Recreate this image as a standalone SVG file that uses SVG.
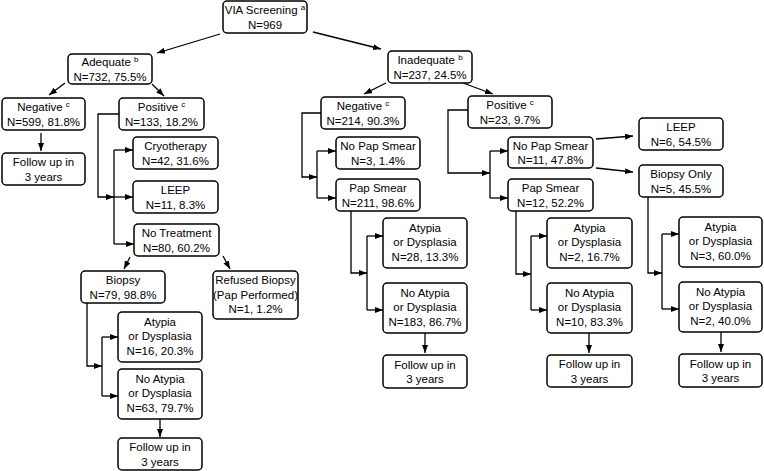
<svg xmlns="http://www.w3.org/2000/svg" width="764" height="471" viewBox="0 0 764 471">
<defs>
<marker id="ah" markerUnits="userSpaceOnUse" markerWidth="9" markerHeight="7" refX="8" refY="3" orient="auto">
<path d="M0,0 L8,3 L0,6 z" fill="#000"/>
</marker>
<style>
.b rect{fill:#fff;stroke:#000;stroke-width:1.5}
.b text{font-family:"Liberation Sans",Arial,sans-serif;font-size:11.5px;fill:#000;text-anchor:middle}
.s{font-size:8px}
#c path{fill:none;stroke:#000;stroke-width:1.3}
#c .a{marker-end:url(#ah)}
</style>
</defs>
<rect width="764" height="471" fill="#fff"/>
<g id="c">
<path class="a" d="M220,34 L157,53"/>
<path class="a" d="M313,32 L381,49"/>
<path class="a" d="M65,83 L49,95"/>
<path class="a" d="M152,84 L164,96"/>
<path class="a" d="M41,133 V151"/>
<path class="a" d="M119,114 H98 V197 H114"/>
<path d="M114,150 V244"/>
<path class="a" d="M114,150 H133"/>
<path class="a" d="M114,197 H133"/>
<path class="a" d="M114,244 H134"/>
<path class="a" d="M130,257 L124,269"/>
<path class="a" d="M223,256 L230,269"/>
<path class="a" d="M87,303 V366 H102"/>
<path d="M102,337 V396"/>
<path class="a" d="M102,337 H118"/>
<path class="a" d="M102,396 H118"/>
<path class="a" d="M160,419 V437"/>
<path class="a" d="M386,83 L364,94"/>
<path class="a" d="M463,83 L493,94"/>
<path class="a" d="M321,113 H302 V177 H317"/>
<path d="M317,151 V198"/>
<path class="a" d="M317,151 H336"/>
<path class="a" d="M317,198 H336"/>
<path class="a" d="M351,211 V273 H367"/>
<path d="M367,236 V310"/>
<path class="a" d="M367,236 H383"/>
<path class="a" d="M367,310 H383"/>
<path class="a" d="M425,333 V353"/>
<path class="a" d="M468,110 H448 V173 H490"/>
<path d="M490,151 V198"/>
<path class="a" d="M490,151 H508"/>
<path class="a" d="M490,198 H508"/>
<path class="a" d="M596,139 L633,136"/>
<path class="a" d="M596,168 L633,172"/>
<path class="a" d="M516,211 V274 H531"/>
<path d="M531,236 V310"/>
<path class="a" d="M531,236 H547"/>
<path class="a" d="M531,310 H547"/>
<path class="a" d="M589,333 V353"/>
<path class="a" d="M648,197 V273 H662"/>
<path d="M662,234 V309"/>
<path class="a" d="M662,234 H679"/>
<path class="a" d="M662,309 H679"/>
<path class="a" d="M721,332 V352"/>
</g>
<g id="via" class="b"><rect x="223" y="1" width="84" height="32" rx="4"/><text x="265" y="14">VIA Screening <tspan class="s" dy="-4">a</tspan></text><text x="265" y="28.5">N=969</text></g>
<g id="adequate" class="b"><rect x="68" y="54" width="84" height="30" rx="4"/><text x="110" y="66">Adequate <tspan class="s" dy="-4">b</tspan></text><text x="110" y="80.5">N=732, 75.5%</text></g>
<g id="inadequate" class="b"><rect x="388" y="51" width="84" height="32" rx="4"/><text x="430" y="64">Inadequate <tspan class="s" dy="-4">b</tspan></text><text x="430" y="78.5">N=237, 24.5%</text></g>
<g id="neg-a" class="b"><rect x="2" y="98" width="83" height="32" rx="4"/><text x="43.5" y="111">Negative <tspan class="s" dy="-4">c</tspan></text><text x="43.5" y="125.5">N=599, 81.8%</text></g>
<g id="pos-a" class="b"><rect x="119" y="98" width="85" height="32" rx="4"/><text x="161.5" y="111">Positive <tspan class="s" dy="-4">c</tspan></text><text x="161.5" y="125.5">N=133, 18.2%</text></g>
<g id="fu-a1" class="b"><rect x="2" y="153" width="83" height="32" rx="4"/><text x="43.5" y="166">Follow up in</text><text x="43.5" y="180.5">3 years</text></g>
<g id="cryo" class="b"><rect x="133" y="137" width="85" height="32" rx="4"/><text x="175.5" y="150">Cryotherapy</text><text x="175.5" y="164.5">N=42, 31.6%</text></g>
<g id="leep-a" class="b"><rect x="133" y="181" width="85" height="32" rx="4"/><text x="175.5" y="194">LEEP</text><text x="175.5" y="208.5">N=11, 8.3%</text></g>
<g id="notreat" class="b"><rect x="134" y="224" width="85" height="32" rx="4"/><text x="176.5" y="237">No Treatment</text><text x="176.5" y="251.5">N=80, 60.2%</text></g>
<g id="biopsy" class="b"><rect x="81" y="271" width="84" height="32" rx="4"/><text x="123" y="284">Biopsy</text><text x="123" y="298.5">N=79, 98.8%</text></g>
<g id="refused" class="b"><rect x="213" y="271" width="85" height="48" rx="4"/><text x="255.5" y="284">Refused Biopsy</text><text x="255.5" y="298.5">(Pap Performed)</text><text x="255.5" y="313">N=1, 1.2%</text></g>
<g id="aty-a" class="b"><rect x="118" y="312" width="84" height="50" rx="4"/><text x="160" y="325.5">Atypia</text><text x="160" y="340">or Dysplasia</text><text x="160" y="354.5">N=16, 20.3%</text></g>
<g id="noaty-a" class="b"><rect x="118" y="369" width="84" height="50" rx="4"/><text x="160" y="382.5">No Atypia</text><text x="160" y="397">or Dysplasia</text><text x="160" y="411.5">N=63, 79.7%</text></g>
<g id="fu-a2" class="b"><rect x="118" y="438" width="84" height="32" rx="4"/><text x="160" y="451">Follow up in</text><text x="160" y="465.5">3 years</text></g>
<g id="neg-i" class="b"><rect x="321" y="97" width="84" height="32" rx="4"/><text x="363" y="110">Negative <tspan class="s" dy="-4">c</tspan></text><text x="363" y="124.5">N=214, 90.3%</text></g>
<g id="pos-i" class="b"><rect x="468" y="96" width="84" height="32" rx="4"/><text x="510" y="109">Positive <tspan class="s" dy="-4">c</tspan></text><text x="510" y="123.5">N=23, 9.7%</text></g>
<g id="nopap-n" class="b"><rect x="336" y="137" width="84" height="32" rx="4"/><text x="378" y="150">No Pap Smear</text><text x="378" y="164.5">N=3, 1.4%</text></g>
<g id="pap-n" class="b"><rect x="336" y="179" width="84" height="32" rx="4"/><text x="378" y="192">Pap Smear</text><text x="378" y="206.5">N=211, 98.6%</text></g>
<g id="aty-n" class="b"><rect x="383" y="218" width="84" height="50" rx="4"/><text x="425" y="231.5">Atypia</text><text x="425" y="246">or Dysplasia</text><text x="425" y="260.5">N=28, 13.3%</text></g>
<g id="noaty-n" class="b"><rect x="383" y="283" width="84" height="50" rx="4"/><text x="425" y="296.5">No Atypia</text><text x="425" y="311">or Dysplasia</text><text x="425" y="325.5">N=183, 86.7%</text></g>
<g id="fu-n" class="b"><rect x="383" y="355" width="84" height="33" rx="4"/><text x="425" y="368.5">Follow up in</text><text x="425" y="383">3 years</text></g>
<g id="nopap-p" class="b"><rect x="508" y="137" width="85" height="31" rx="4"/><text x="550.5" y="150">No Pap Smear</text><text x="550.5" y="164">N=11, 47.8%</text></g>
<g id="pap-p" class="b"><rect x="508" y="179" width="85" height="32" rx="4"/><text x="550.5" y="192">Pap Smear</text><text x="550.5" y="206.5">N=12, 52.2%</text></g>
<g id="leep-p" class="b"><rect x="639" y="118" width="84" height="32" rx="4"/><text x="681" y="131">LEEP</text><text x="681" y="145.5">N=6, 54.5%</text></g>
<g id="bxonly" class="b"><rect x="639" y="165" width="84" height="32" rx="4"/><text x="681" y="178">Biopsy Only</text><text x="681" y="192.5">N=5, 45.5%</text></g>
<g id="aty-p" class="b"><rect x="547" y="218" width="85" height="50" rx="4"/><text x="589.5" y="231.5">Atypia</text><text x="589.5" y="246">or Dysplasia</text><text x="589.5" y="260.5">N=2, 16.7%</text></g>
<g id="noaty-p" class="b"><rect x="547" y="283" width="85" height="50" rx="4"/><text x="589.5" y="296.5">No Atypia</text><text x="589.5" y="311">or Dysplasia</text><text x="589.5" y="325.5">N=10, 83.3%</text></g>
<g id="fu-p" class="b"><rect x="547" y="355" width="85" height="32" rx="4"/><text x="589.5" y="368">Follow up in</text><text x="589.5" y="382.5">3 years</text></g>
<g id="aty-b" class="b"><rect x="679" y="217" width="83" height="50" rx="4"/><text x="720.5" y="230.5">Atypia</text><text x="720.5" y="245">or Dysplasia</text><text x="720.5" y="259.5">N=3, 60.0%</text></g>
<g id="noaty-b" class="b"><rect x="679" y="282" width="83" height="50" rx="4"/><text x="720.5" y="295.5">No Atypia</text><text x="720.5" y="310">or Dysplasia</text><text x="720.5" y="324.5">N=2, 40.0%</text></g>
<g id="fu-b" class="b"><rect x="679" y="354" width="83" height="33" rx="4"/><text x="720.5" y="367.5">Follow up in</text><text x="720.5" y="382">3 years</text></g>
</svg>
